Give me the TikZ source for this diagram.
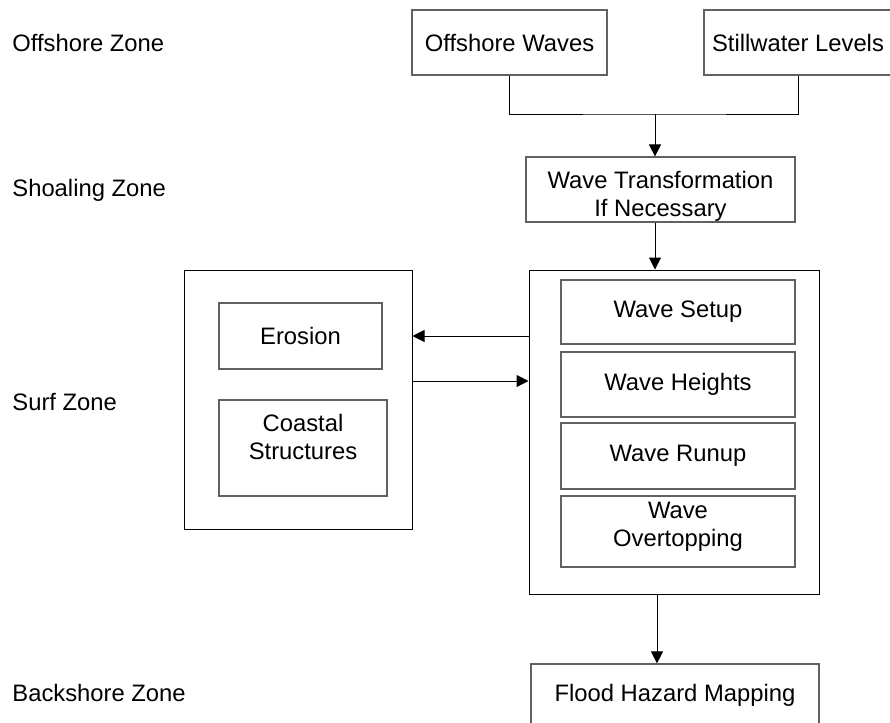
\documentclass[tikz,border=0pt]{standalone}
\usepackage{fontspec}
\setmainfont{Liberation Sans}
\usetikzlibrary{arrows.meta}
\definecolor{boxgray}{gray}{0.38}

\begin{document}
\begin{tikzpicture}[x=0.5pt, y=-0.5pt,
    every node/.style={font=\fontsize{11.9}{14}\selectfont},
    zone/.style={anchor=west, inner sep=0pt},
    box/.style={draw=boxgray, line width=0.6pt, inner sep=0pt, align=center},
    frame/.style={draw=black, line width=0.5pt, inner sep=0pt},
    wire/.style={line width=0.5pt},
    flow/.style={wire, -{Triangle[length=6pt, width=6pt]}}]
                \clip (0, 0) rectangle (890, 723);
                % Zones:
                \node[zone] (offz) at (12, 43) {Offshore Zone};
                \node[zone] (shoz) at (12, 190) {Shoaling Zone};
                \node[zone] (surfz) at (12, 402) {Surf Zone};
                \node[zone] (backz) at (12, 693) {Backshore Zone};
                % Boxes:
                \node[box, minimum width=97.5pt, minimum height=32.5pt] (waves) at (509.5, 42.5) {Offshore Waves};
                \node[box, minimum width=94pt, minimum height=32.5pt] (still) at (798, 42.5) {Stillwater Levels};
                \node[box, minimum width=134.5pt, minimum height=32.5pt] (trans) at (660.5, 189.5) {\rule{0pt}{15pt}Wave Transformation\\If Necessary};
                \node[frame, minimum width=145pt, minimum height=162pt] (surf) at (674, 432) {};
                \node[box, minimum width=117pt, minimum height=32pt] (setup) at (678, 312) {Wave Setup};
                \node[box, minimum width=117pt, minimum height=32.5pt] (heights) at (678, 384.5) {Wave Heights};
                \node[box, minimum width=117pt, minimum height=33pt] (runup) at (678, 456) {Wave Runup};
                \node[box, minimum width=117pt, minimum height=35.5pt] (overtop) at (678, 531.5) {Wave\\Overtopping\\[-7pt]\mbox{}};
                \node[frame, minimum width=114pt, minimum height=129.5pt] (impact) at (298, 399.5) {};
                \node[box, minimum width=81.5pt, minimum height=33pt] (erosion) at (300.5, 336) {Erosion};
                \node[box, minimum width=84pt, minimum height=48pt] (struct) at (303, 448) {Coastal\\Structures\\[-3pt]\mbox{}};
                \node[box, minimum width=144pt, minimum height=31pt] (flood) at (675, 695) {Flood Hazard Mapping};
                % Wires:
                \coordinate (join) at (655, 114);
                \draw[wire] (waves.south) |- (join) -| (still.south);
                \draw[flow] (join) -- (join |- trans.north);
                \draw[flow] (trans.south -| join) -- (surf.north -| join);
                \draw[flow] (surf.west |- erosion.center) -- (impact.east |- erosion.center);
                \draw[flow] ([yshift=-22.5pt]impact.east |- erosion.center) -- ([yshift=-22.5pt]surf.west |- erosion.center);
                \draw[flow] ([xshift=1pt]surf.south -| join) -- ([xshift=1pt]flood.north -| join);
            \end{tikzpicture}
\end{document}
